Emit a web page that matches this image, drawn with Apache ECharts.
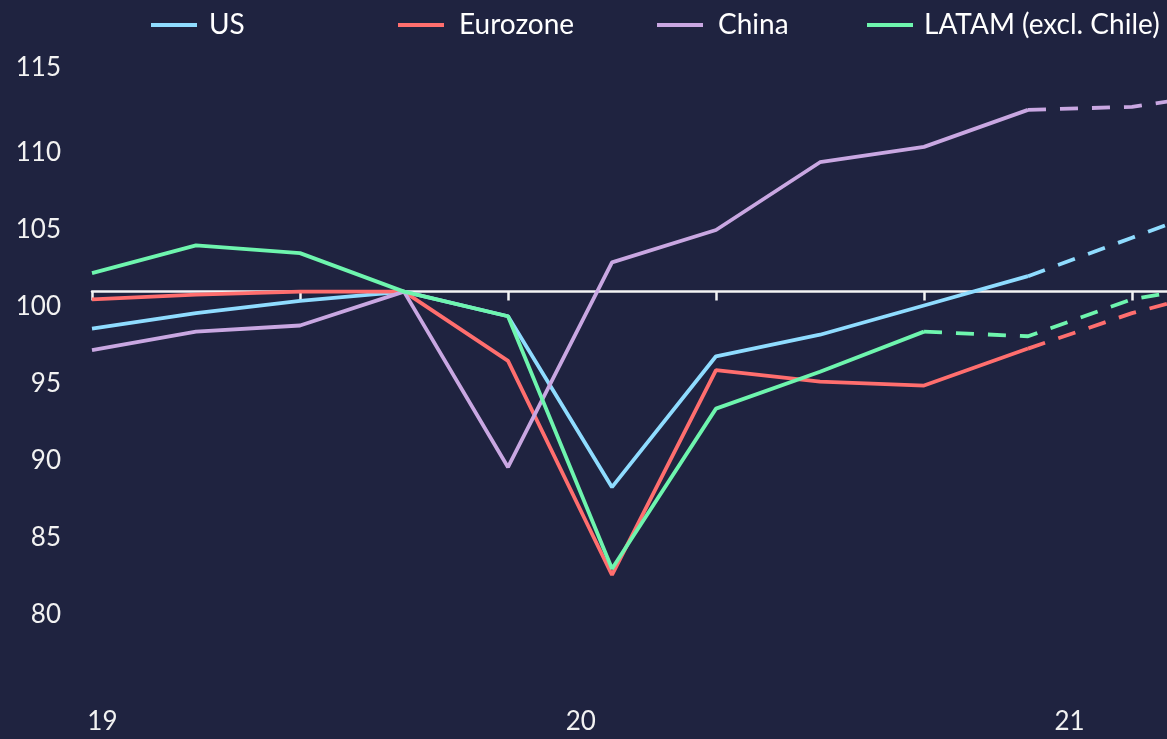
<!DOCTYPE html>
<html>
<head>
<meta charset="utf-8">
<script src="https://cdn.jsdelivr.net/npm/echarts@6/dist/echarts.min.js"></script>
<style>
  html, body { margin: 0; padding: 0; background: #1f2340; }
  #main { width: 1167px; height: 739px; }
</style>
</head>
<body>
<div id="main"></div>
<script>
// quarters Q1 2019 .. Q4 2021
var quarters = ['Q1 19', 'Q2 19', 'Q3 19', 'Q4 19', 'Q1 20', 'Q2 20', 'Q3 20', 'Q4 20', 'Q1 21', 'Q2 21', 'Q3 21', 'Q4 21'];
var usValues    = [98.6, 99.6, 100.4, 101.0, 99.4, 88.3, 96.8, 98.2, 100.1, 102.0, 104.5, 107.0];
var euroValues  = [100.5, 100.8, 101.0, 101.0, 96.5, 82.6, 95.9, 95.15, 94.9, 97.3, 99.6, 101.4];
var chinaValues = [97.2, 98.4, 98.8, 101.0, 89.6, 102.9, 105.0, 109.4, 110.4, 112.8, 113.0, 114.0];
var latamValues = [102.2, 104.0, 103.5, 101.0, 99.4, 83.0, 93.4, 95.8, 98.4, 98.1, 100.5, 101.65];
// index of the last actual value, forecasts are dashed after it
var usLast = 9, euroLast = 9, chinaLast = 9, latamLast = 8;
var baseLine = 101;
var yearLabels = ['19', '20', '21'];
var yearTicks = [0.1, 4.7, 9.4];

var names = ['US', 'Eurozone', 'China', 'LATAM (excl. Chile)'];
var colors = ['#8fdcff', '#ff6e6e', '#c9a7e2', '#6ef5ae'];
var font = 'Lato';

function solidPart(values, last) {
    return values.map(function (v, i) { return i <= last ? v : null; });
}
function dashedPart(values, last) {
    return values.map(function (v, i) { return i >= last ? v : null; });
}

function makeSeries(name, color, values, last) {
    var common = {
        name: name,
        type: 'line',
        symbol: 'none',
        xAxisIndex: 0,
        yAxisIndex: 0,
        color: color
    };
    return [
        Object.assign({}, common, {
            data: solidPart(values, last),
            lineStyle: { color: color, width: 3.8 }
        }),
        Object.assign({}, common, {
            data: dashedPart(values, last),
            lineStyle: { color: color, width: 3.8, type: [18, 14] }
        })
    ];
}

var series = []
    .concat(makeSeries(names[0], colors[0], usValues, usLast))
    .concat(makeSeries(names[1], colors[1], euroValues, euroLast))
    .concat(makeSeries(names[2], colors[2], chinaValues, chinaLast))
    .concat(makeSeries(names[3], colors[3], latamValues, latamLast));

var legendLeft = [146, 393, 652, 862];
var legendPad = [7, 10, 10, 6];
var legends = names.map(function (n, i) {
    return {
        data: [n],
        left: legendLeft[i],
        top: 4,
        icon: 'rect',
        itemWidth: 46,
        itemHeight: 4,
        textStyle: {
            color: '#ffffff',
            fontFamily: font,
            fontSize: 28,
            lineHeight: 32,
            padding: [0, 0, 0, legendPad[i]]
        }
    };
});

var chart = echarts.init(document.getElementById('main'));
var option = {
    backgroundColor: '#1f2340',
    animation: false,
    legend: legends,
    grid: {
        left: 92,
        top: 76,
        width: 1144,
        height: 616,
        outerBoundsMode: 'none'
    },
    xAxis: [
        {
            type: 'category',
            data: quarters,
            boundaryGap: false,
            axisLine: {
                onZero: true,
                onZeroAxisIndex: 1,
                lineStyle: { color: '#f4f4f4', width: 2.5 }
            },
            axisTick: {
                show: true,
                interval: 1,
                length: 9,
                lineStyle: { color: '#f4f4f4', width: 2.5 }
            },
            axisLabel: { show: false },
            splitLine: { show: false }
        },
        {
            type: 'value',
            position: 'bottom',
            min: 0,
            max: quarters.length - 1,
            axisLine: { show: false, onZero: false },
            axisTick: { show: false },
            splitLine: { show: false },
            axisLabel: {
                customValues: yearTicks,
                formatter: function (v) { return yearLabels[yearTicks.indexOf(v)]; },
                color: '#f2f2f2',
                fontFamily: font,
                fontSize: 26,
                margin: 17
            }
        }
    ],
    yAxis: [
        {
            type: 'value',
            min: 75,
            max: 115,
            interval: 5,
            axisLine: { show: false },
            axisTick: { show: false },
            splitLine: { show: false },
            axisLabel: {
                showMinLabel: false,
                color: '#f2f2f2',
                fontFamily: font,
                fontSize: 26,
                margin: 31,
                // the top label sits a little higher in the original
                formatter: function (v) { return v === 115 ? '{top|' + v + '}' : String(v); },
                rich: {
                    top: {
                        color: '#f2f2f2',
                        fontFamily: font,
                        fontSize: 26,
                        padding: [0, 0, 16, 0]
                    }
                }
            }
        },
        {
            // helper axis whose zero sits on the base line
            type: 'value',
            show: false,
            min: 75 - baseLine,
            max: 115 - baseLine
        }
    ],
    series: series
};
chart.setOption(option);
</script>
</body>
</html>
